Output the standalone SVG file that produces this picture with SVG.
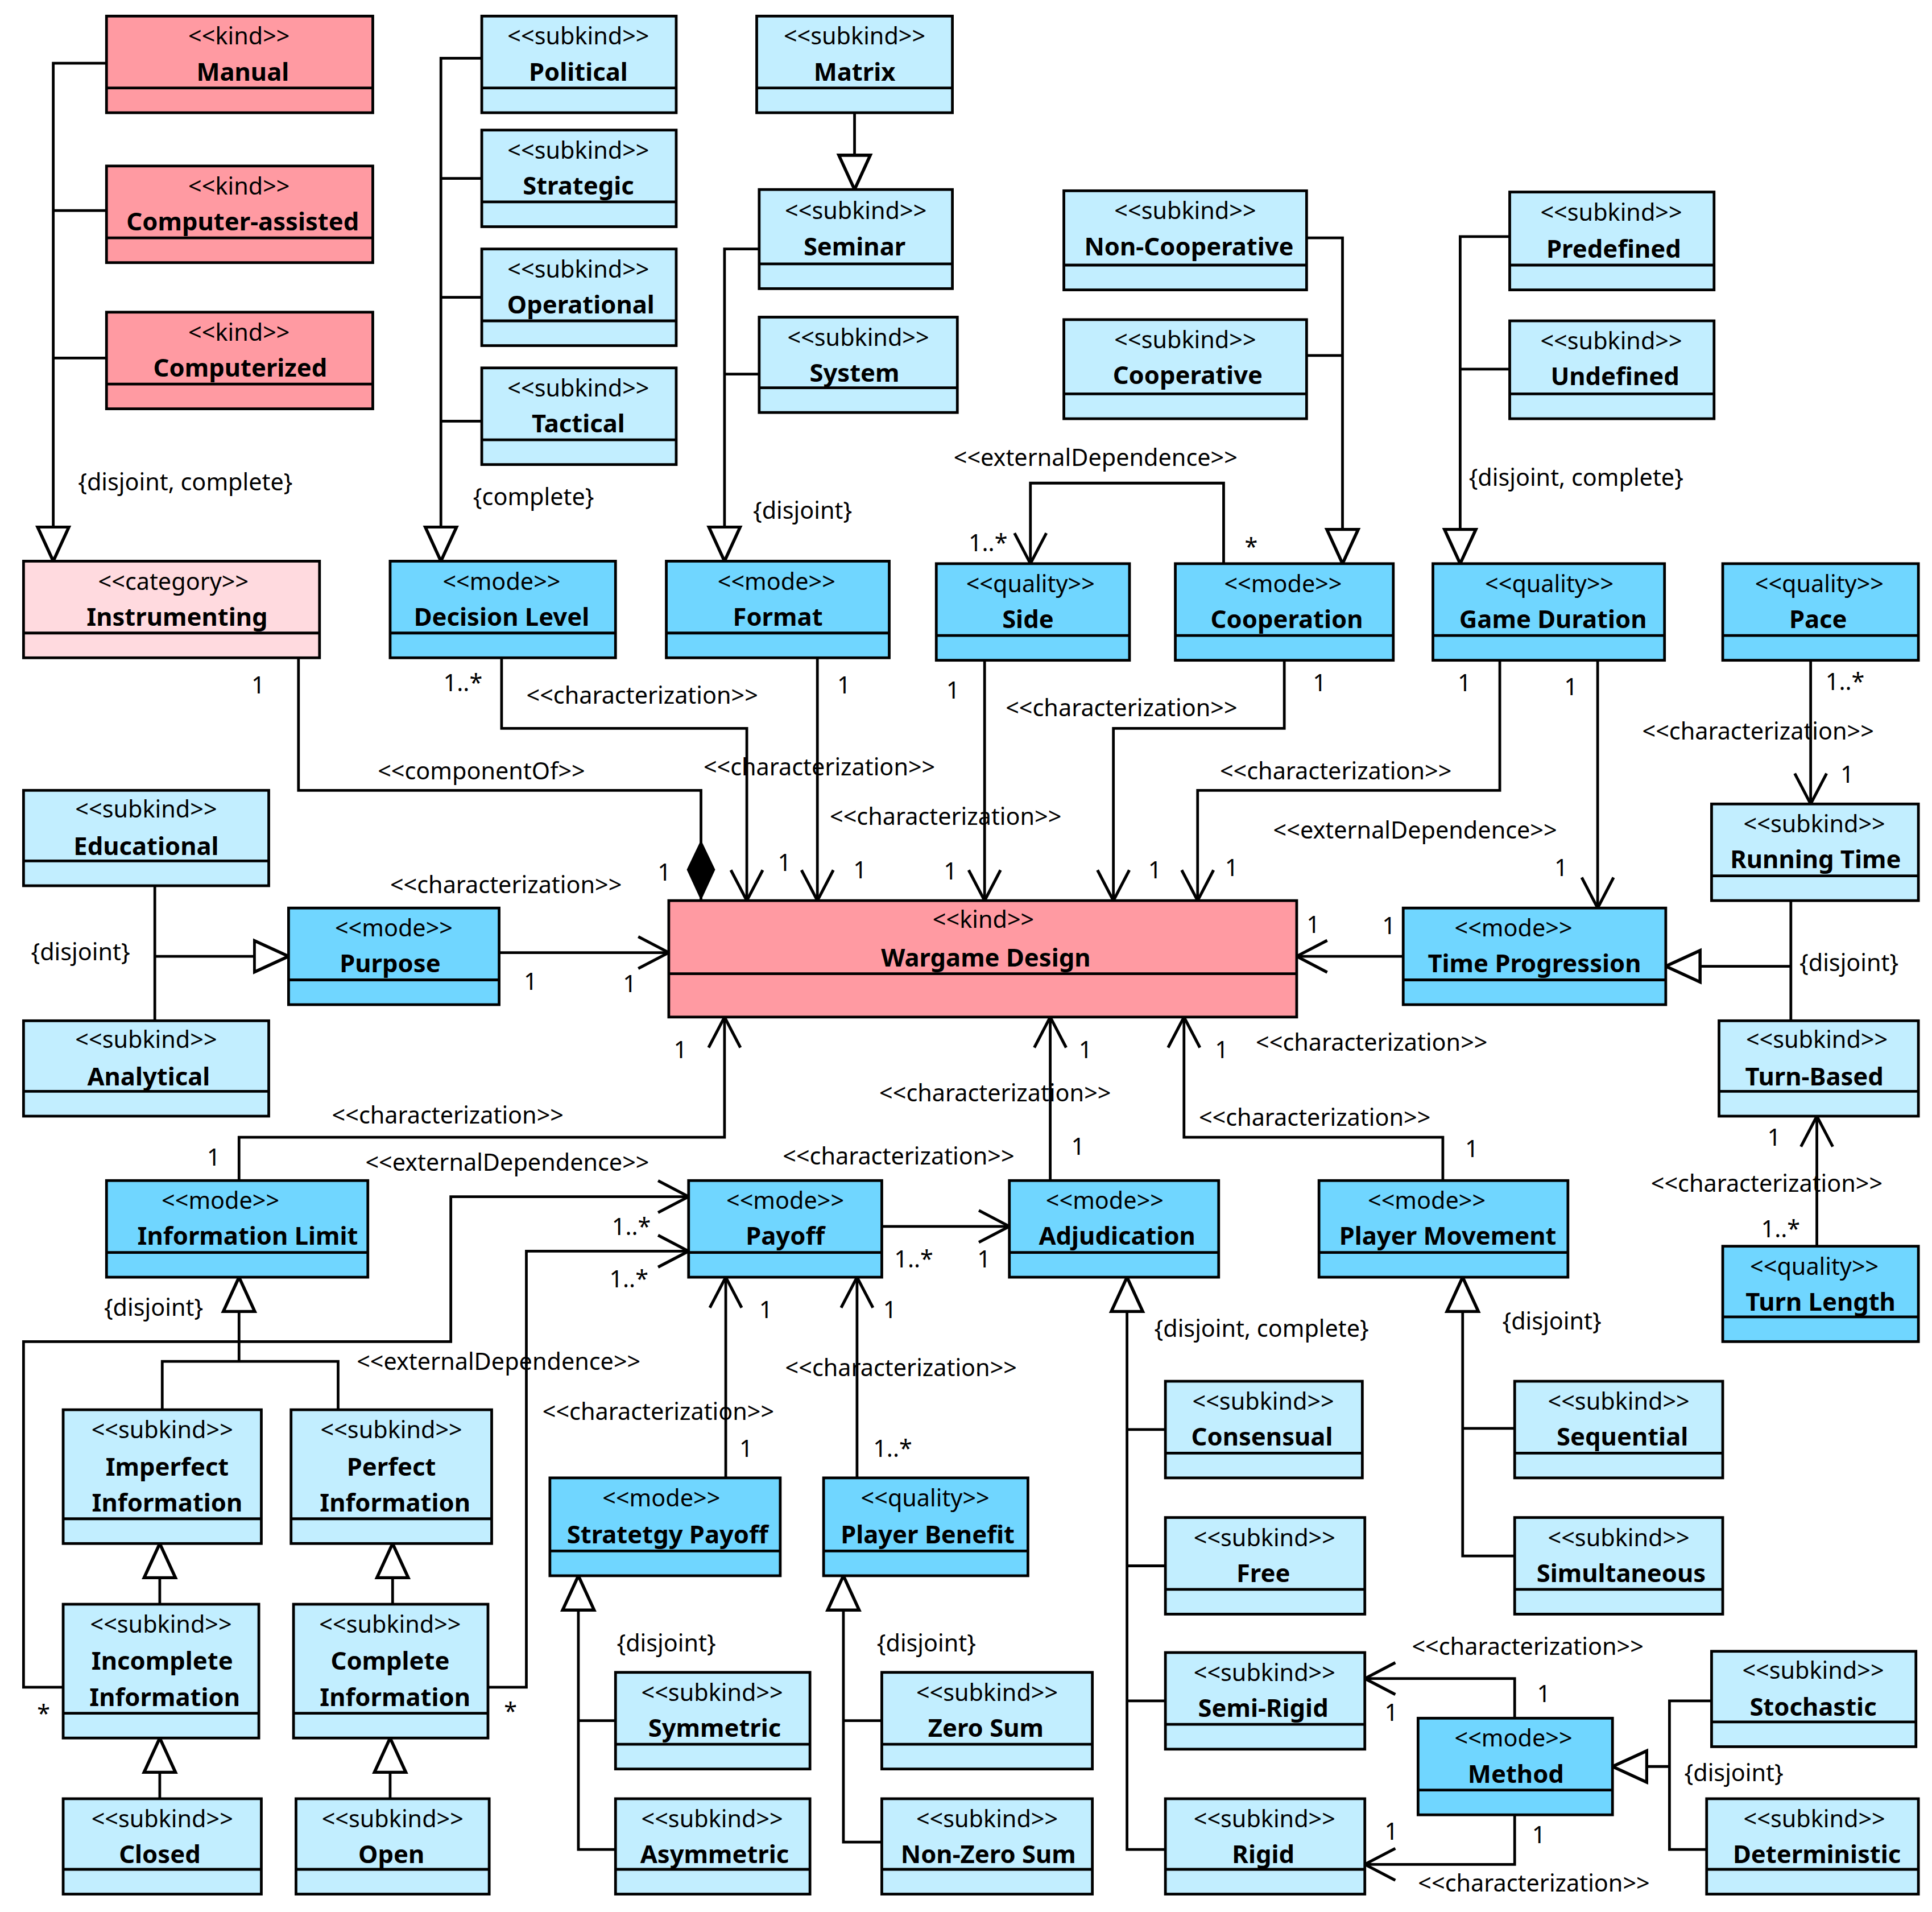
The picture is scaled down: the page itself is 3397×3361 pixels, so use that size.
<svg xmlns="http://www.w3.org/2000/svg" width="3397" height="3361" viewBox="0 0 3397 3361">
<style>
.b rect{stroke:#000;stroke-width:2.2}
.b line{stroke:#000;stroke-width:2.2}
.k rect{fill:#FF9AA2}.c rect{fill:#FFDADF}.s rect{fill:#C2EEFF}.m rect{fill:#70D6FF}
.st{font-family:"Noto Sans","DejaVu Sans",sans-serif;font-size:19px;text-anchor:middle}
.nm{font-family:"Noto Sans","DejaVu Sans",sans-serif;font-size:20px;font-weight:bold;text-anchor:middle}
.lb{font-family:"Noto Sans","DejaVu Sans",sans-serif;font-size:19px}
#conn path{fill:none;stroke:#000;stroke-width:2.2}
</style>
<defs>
<marker id="tri" markerUnits="userSpaceOnUse" markerWidth="30" markerHeight="30" viewBox="-1 -13 26 26" refX="24" refY="0" orient="auto"><path d="M0,-11 L24,0 L0,11 Z" fill="#fff" stroke="#000" stroke-width="2.2"/></marker>
<marker id="arr" markerUnits="userSpaceOnUse" markerWidth="30" markerHeight="30" viewBox="-1 -14 26 28" refX="23" refY="0" orient="auto"><path d="M0,-12 L23,0 L0,12" fill="none" stroke="#000" stroke-width="2.2"/></marker>
<marker id="dia" markerUnits="userSpaceOnUse" markerWidth="50" markerHeight="30" viewBox="0 -13 48 26" refX="47" refY="0" orient="auto"><path d="M0,0 L23,-11 L47,0 L23,11 Z" fill="#000"/></marker>
</defs>
<rect width="3397" height="3361" fill="#fff"/>
<g transform="scale(2.1776)">
<g id="conn">
<path d="M86,51H43V453" marker-end="url(#tri)"/><path d="M86,170H43M86,289H43"/>
<path d="M389,47H356V453" marker-end="url(#tri)"/><path d="M389,144H356M389,240H356M389,340H356"/>
<path d="M690,91V153" marker-end="url(#tri)"/>
<path d="M613,201H585V453" marker-end="url(#tri)"/><path d="M613,302H585"/>
<path d="M1055,192H1084V455" marker-end="url(#tri)"/><path d="M1055,287H1084"/>
<path d="M1219,191H1179V455" marker-end="url(#tri)"/><path d="M1219,298H1179"/>
<path d="M988,455V390H832V455" marker-end="url(#arr)"/>
<path d="M241,531V638H566V727" marker-end="url(#dia)"/>
<path d="M405,531V588H603V727" marker-end="url(#arr)"/>
<path d="M660,531V727" marker-end="url(#arr)"/>
<path d="M795,533V727" marker-end="url(#arr)"/>
<path d="M1037,533V588H899V727" marker-end="url(#arr)"/>
<path d="M1211,533V638H967V727" marker-end="url(#arr)"/>
<path d="M1290,533V733" marker-end="url(#arr)"/>
<path d="M1462,533V649" marker-end="url(#arr)"/>
<path d="M1446,727V824M1446,780H1345" marker-end="url(#tri)"/>
<path d="M1467,1006V901" marker-end="url(#arr)"/>
<path d="M1133,772H1047" marker-end="url(#arr)"/>
<path d="M403,769H540" marker-end="url(#arr)"/>
<path d="M125,715V824M125,772H233" marker-end="url(#tri)"/>
<path d="M193,953V918H585V821" marker-end="url(#arr)"/>
<path d="M848,953V821" marker-end="url(#arr)"/>
<path d="M712,990H815" marker-end="url(#arr)"/>
<path d="M1165,953V918H956V821" marker-end="url(#arr)"/>
<path d="M51,1362H19V1083H364V966H556" marker-end="url(#arr)"/>
<path d="M394,1362H425V1010H556" marker-end="url(#arr)"/>
<path d="M131,1138V1099H273V1138M193,1099V1031" marker-end="url(#tri)"/>
<path d="M129,1295V1246" marker-end="url(#tri)"/>
<path d="M317,1295V1246" marker-end="url(#tri)"/>
<path d="M129,1452V1403" marker-end="url(#tri)"/>
<path d="M315,1452V1403" marker-end="url(#tri)"/>
<path d="M586,1193V1031" marker-end="url(#arr)"/>
<path d="M692,1193V1031" marker-end="url(#arr)"/>
<path d="M497,1389H467M497,1493H467V1272" marker-end="url(#tri)"/>
<path d="M712,1389H681M712,1487H681V1272" marker-end="url(#tri)"/>
<path d="M941,1154H910M941,1264H910M941,1373H910M941,1493H910V1031" marker-end="url(#tri)"/>
<path d="M1223,1153H1181M1223,1256H1181V1031" marker-end="url(#tri)"/>
<path d="M1223,1387V1355H1102" marker-end="url(#arr)"/>
<path d="M1223,1465V1505H1102" marker-end="url(#arr)"/>
<path d="M1382,1373H1348V1493H1378M1348,1426H1302" marker-end="url(#tri)"/>
</g>
<g class="lb">
<text x="63" y="396">{disjoint, complete}</text>
<text x="382" y="408">{complete}</text>
<text x="608" y="419">{disjoint}</text>
<text x="1186" y="392">{disjoint, complete}</text>
<text x="770" y="376">&lt;&lt;externalDependence&gt;&gt;</text>
<text x="782" y="445">1..*</text><text x="1005" y="448">*</text>
<text x="305" y="629">&lt;&lt;componentOf&gt;&gt;</text>
<text x="203" y="560">1</text><text x="531" y="711">1</text>
<text x="358" y="558">1..*</text><text x="425" y="568">&lt;&lt;characterization&gt;&gt;</text><text x="628" y="703">1</text>
<text x="676" y="560">1</text><text x="568" y="626">&lt;&lt;characterization&gt;&gt;</text><text x="689" y="709">1</text>
<text x="764" y="564">1</text><text x="670" y="666">&lt;&lt;characterization&gt;&gt;</text><text x="762" y="710">1</text>
<text x="1060" y="558">1</text><text x="812" y="578">&lt;&lt;characterization&gt;&gt;</text><text x="927" y="709">1</text>
<text x="1177" y="558">1</text><text x="985" y="629">&lt;&lt;characterization&gt;&gt;</text><text x="989" y="707">1</text>
<text x="1263" y="561">1</text><text x="1028" y="677">&lt;&lt;externalDependence&gt;&gt;</text><text x="1255" y="707">1</text>
<text x="1474" y="557">1..*</text><text x="1326" y="597">&lt;&lt;characterization&gt;&gt;</text><text x="1486" y="632">1</text>
<text x="1453" y="784">{disjoint}</text>
<text x="1427" y="925">1</text><text x="1333" y="962">&lt;&lt;characterization&gt;&gt;</text><text x="1422" y="999">1..*</text>
<text x="1116" y="754">1</text><text x="1055" y="753">1</text>
<text x="423" y="799">1</text><text x="503" y="801">1</text><text x="315" y="721">&lt;&lt;characterization&gt;&gt;</text>
<text x="25" y="775">{disjoint}</text>
<text x="167" y="941">1</text><text x="268" y="907">&lt;&lt;characterization&gt;&gt;</text><text x="544" y="854">1</text>
<text x="871" y="854">1</text><text x="710" y="889">&lt;&lt;characterization&gt;&gt;</text><text x="865" y="932">1</text>
<text x="632" y="940">&lt;&lt;characterization&gt;&gt;</text><text x="722" y="1023">1..*</text><text x="789" y="1023">1</text>
<text x="981" y="854">1</text><text x="1014" y="848">&lt;&lt;characterization&gt;&gt;</text><text x="968" y="909">&lt;&lt;characterization&gt;&gt;</text><text x="1183" y="934">1</text>
<text x="30" y="1390">*</text><text x="494" y="997">1..*</text><text x="295" y="945">&lt;&lt;externalDependence&gt;&gt;</text>
<text x="407" y="1388">*</text><text x="492" y="1039">1..*</text><text x="288" y="1106">&lt;&lt;externalDependence&gt;&gt;</text>
<text x="84" y="1062">{disjoint}</text>
<text x="613" y="1064">1</text><text x="438" y="1146">&lt;&lt;characterization&gt;&gt;</text><text x="597" y="1176">1</text>
<text x="713" y="1064">1</text><text x="634" y="1111">&lt;&lt;characterization&gt;&gt;</text><text x="705" y="1176">1..*</text>
<text x="498" y="1333">{disjoint}</text><text x="708" y="1333">{disjoint}</text>
<text x="932" y="1079">{disjoint, complete}</text><text x="1213" y="1073">{disjoint}</text>
<text x="1140" y="1336">&lt;&lt;characterization&gt;&gt;</text><text x="1241" y="1374">1</text><text x="1118" y="1389">1</text>
<text x="1237" y="1488">1</text><text x="1118" y="1485">1</text><text x="1145" y="1527">&lt;&lt;characterization&gt;&gt;</text>
<text x="1360" y="1438">{disjoint}</text>
</g>
<g id="n-manual" class="b k"><rect x="86" y="13" width="215" height="78"/><line x1="86" y1="71" x2="301" y2="71"/><text class="st" x="193" y="36">&lt;&lt;kind&gt;&gt;</text><text class="nm" x="196" y="65">Manual</text></g>
<g id="n-ca" class="b k"><rect x="86" y="134" width="215" height="78"/><line x1="86" y1="192" x2="301" y2="192"/><text class="st" x="193" y="157">&lt;&lt;kind&gt;&gt;</text><text class="nm" x="196" y="186">Computer-assisted</text></g>
<g id="n-comp" class="b k"><rect x="86" y="252" width="215" height="78"/><line x1="86" y1="310" x2="301" y2="310"/><text class="st" x="193" y="275">&lt;&lt;kind&gt;&gt;</text><text class="nm" x="194" y="304">Computerized</text></g>
<g id="n-wd" class="b k"><rect x="540" y="727" width="507" height="94"/><line x1="540" y1="786" x2="1047" y2="786"/><text class="st" x="794" y="749">&lt;&lt;kind&gt;&gt;</text><text class="nm" x="796" y="780">Wargame Design</text></g>
<g id="n-instr" class="b c"><rect x="19" y="453" width="239" height="78"/><line x1="19" y1="511" x2="258" y2="511"/><text class="st" x="140" y="476">&lt;&lt;category&gt;&gt;</text><text class="nm" x="143" y="505">Instrumenting</text></g>
<g id="n-political" class="b s"><rect x="389" y="13" width="157" height="78"/><line x1="389" y1="71" x2="546" y2="71"/><text class="st" x="467" y="36">&lt;&lt;subkind&gt;&gt;</text><text class="nm" x="467" y="65">Political</text></g>
<g id="n-strategic" class="b s"><rect x="389" y="105" width="157" height="78"/><line x1="389" y1="163" x2="546" y2="163"/><text class="st" x="467" y="128">&lt;&lt;subkind&gt;&gt;</text><text class="nm" x="467" y="157">Strategic</text></g>
<g id="n-operational" class="b s"><rect x="389" y="201" width="157" height="78"/><line x1="389" y1="259" x2="546" y2="259"/><text class="st" x="467" y="224">&lt;&lt;subkind&gt;&gt;</text><text class="nm" x="469" y="253">Operational</text></g>
<g id="n-tactical" class="b s"><rect x="389" y="297" width="157" height="78"/><line x1="389" y1="355" x2="546" y2="355"/><text class="st" x="467" y="320">&lt;&lt;subkind&gt;&gt;</text><text class="nm" x="467" y="349">Tactical</text></g>
<g id="n-matrix" class="b s"><rect x="611" y="13" width="158" height="78"/><line x1="611" y1="71" x2="769" y2="71"/><text class="st" x="690" y="36">&lt;&lt;subkind&gt;&gt;</text><text class="nm" x="690" y="65">Matrix</text></g>
<g id="n-seminar" class="b s"><rect x="613" y="153" width="156" height="80"/><line x1="613" y1="213" x2="769" y2="213"/><text class="st" x="691" y="177">&lt;&lt;subkind&gt;&gt;</text><text class="nm" x="690" y="206">Seminar</text></g>
<g id="n-system" class="b s"><rect x="613" y="256" width="160" height="77"/><line x1="613" y1="313" x2="773" y2="313"/><text class="st" x="693" y="279">&lt;&lt;subkind&gt;&gt;</text><text class="nm" x="690" y="308">System</text></g>
<g id="n-noncoop" class="b s"><rect x="859" y="154" width="196" height="80"/><line x1="859" y1="214" x2="1055" y2="214"/><text class="st" x="957" y="177">&lt;&lt;subkind&gt;&gt;</text><text class="nm" x="960" y="206">Non-Cooperative</text></g>
<g id="n-coop" class="b s"><rect x="859" y="258" width="196" height="80"/><line x1="859" y1="318" x2="1055" y2="318"/><text class="st" x="957" y="281">&lt;&lt;subkind&gt;&gt;</text><text class="nm" x="959" y="310">Cooperative</text></g>
<g id="n-predef" class="b s"><rect x="1219" y="155" width="165" height="79"/><line x1="1219" y1="214" x2="1384" y2="214"/><text class="st" x="1301" y="178">&lt;&lt;subkind&gt;&gt;</text><text class="nm" x="1303" y="208">Predefined</text></g>
<g id="n-undef" class="b s"><rect x="1219" y="259" width="165" height="79"/><line x1="1219" y1="318" x2="1384" y2="318"/><text class="st" x="1301" y="282">&lt;&lt;subkind&gt;&gt;</text><text class="nm" x="1304" y="311">Undefined</text></g>
<g id="n-edu" class="b s"><rect x="19" y="638" width="198" height="77"/><line x1="19" y1="695" x2="217" y2="695"/><text class="st" x="118" y="660">&lt;&lt;subkind&gt;&gt;</text><text class="nm" x="118" y="690">Educational</text></g>
<g id="n-ana" class="b s"><rect x="19" y="824" width="198" height="77"/><line x1="19" y1="881" x2="217" y2="881"/><text class="st" x="118" y="846">&lt;&lt;subkind&gt;&gt;</text><text class="nm" x="120" y="876">Analytical</text></g>
<g id="n-running" class="b s"><rect x="1382" y="649" width="167" height="78"/><line x1="1382" y1="707" x2="1549" y2="707"/><text class="st" x="1465" y="672">&lt;&lt;subkind&gt;&gt;</text><text class="nm" x="1466" y="701">Running Time</text></g>
<g id="n-turnbased" class="b s"><rect x="1388" y="824" width="161" height="77"/><line x1="1388" y1="881" x2="1549" y2="881"/><text class="st" x="1467" y="846">&lt;&lt;subkind&gt;&gt;</text><text class="nm" x="1465" y="876">Turn-Based</text></g>
<g id="n-imperfect" class="b s"><rect x="51" y="1138" width="160" height="108"/><line x1="51" y1="1226" x2="211" y2="1226"/><text class="st" x="131" y="1161">&lt;&lt;subkind&gt;&gt;</text><text class="nm" x="135" y="1191">Imperfect</text><text class="nm" x="135" y="1220">Information</text></g>
<g id="n-perfect" class="b s"><rect x="235" y="1138" width="162" height="108"/><line x1="235" y1="1226" x2="397" y2="1226"/><text class="st" x="316" y="1161">&lt;&lt;subkind&gt;&gt;</text><text class="nm" x="316" y="1191">Perfect</text><text class="nm" x="319" y="1220">Information</text></g>
<g id="n-incomplete" class="b s"><rect x="51" y="1295" width="158" height="108"/><line x1="51" y1="1383" x2="209" y2="1383"/><text class="st" x="130" y="1318">&lt;&lt;subkind&gt;&gt;</text><text class="nm" x="131" y="1348">Incomplete</text><text class="nm" x="133" y="1377">Information</text></g>
<g id="n-complete" class="b s"><rect x="237" y="1295" width="157" height="108"/><line x1="237" y1="1383" x2="394" y2="1383"/><text class="st" x="315" y="1318">&lt;&lt;subkind&gt;&gt;</text><text class="nm" x="315" y="1348">Complete</text><text class="nm" x="319" y="1377">Information</text></g>
<g id="n-closed" class="b s"><rect x="51" y="1452" width="160" height="77"/><line x1="51" y1="1509" x2="211" y2="1509"/><text class="st" x="131" y="1475">&lt;&lt;subkind&gt;&gt;</text><text class="nm" x="129" y="1504">Closed</text></g>
<g id="n-open" class="b s"><rect x="239" y="1452" width="156" height="77"/><line x1="239" y1="1509" x2="395" y2="1509"/><text class="st" x="317" y="1475">&lt;&lt;subkind&gt;&gt;</text><text class="nm" x="316" y="1504">Open</text></g>
<g id="n-consensual" class="b s"><rect x="941" y="1115" width="159" height="78"/><line x1="941" y1="1173" x2="1100" y2="1173"/><text class="st" x="1020" y="1138">&lt;&lt;subkind&gt;&gt;</text><text class="nm" x="1019" y="1167">Consensual</text></g>
<g id="n-free" class="b s"><rect x="941" y="1225" width="161" height="78"/><line x1="941" y1="1283" x2="1102" y2="1283"/><text class="st" x="1021" y="1248">&lt;&lt;subkind&gt;&gt;</text><text class="nm" x="1020" y="1277">Free</text></g>
<g id="n-semirigid" class="b s"><rect x="941" y="1334" width="161" height="78"/><line x1="941" y1="1392" x2="1102" y2="1392"/><text class="st" x="1021" y="1357">&lt;&lt;subkind&gt;&gt;</text><text class="nm" x="1020" y="1386">Semi-Rigid</text></g>
<g id="n-rigid" class="b s"><rect x="941" y="1452" width="161" height="77"/><line x1="941" y1="1509" x2="1102" y2="1509"/><text class="st" x="1021" y="1475">&lt;&lt;subkind&gt;&gt;</text><text class="nm" x="1020" y="1504">Rigid</text></g>
<g id="n-sequential" class="b s"><rect x="1223" y="1115" width="168" height="78"/><line x1="1223" y1="1173" x2="1391" y2="1173"/><text class="st" x="1307" y="1138">&lt;&lt;subkind&gt;&gt;</text><text class="nm" x="1310" y="1167">Sequential</text></g>
<g id="n-simultaneous" class="b s"><rect x="1223" y="1225" width="168" height="78"/><line x1="1223" y1="1283" x2="1391" y2="1283"/><text class="st" x="1307" y="1248">&lt;&lt;subkind&gt;&gt;</text><text class="nm" x="1309" y="1277">Simultaneous</text></g>
<g id="n-symmetric" class="b s"><rect x="497" y="1350" width="157" height="78"/><line x1="497" y1="1408" x2="654" y2="1408"/><text class="st" x="575" y="1373">&lt;&lt;subkind&gt;&gt;</text><text class="nm" x="577" y="1402">Symmetric</text></g>
<g id="n-asymmetric" class="b s"><rect x="497" y="1452" width="157" height="77"/><line x1="497" y1="1509" x2="654" y2="1509"/><text class="st" x="575" y="1475">&lt;&lt;subkind&gt;&gt;</text><text class="nm" x="577" y="1504">Asymmetric</text></g>
<g id="n-zerosum" class="b s"><rect x="712" y="1350" width="170" height="78"/><line x1="712" y1="1408" x2="882" y2="1408"/><text class="st" x="797" y="1373">&lt;&lt;subkind&gt;&gt;</text><text class="nm" x="796" y="1402">Zero Sum</text></g>
<g id="n-nonzerosum" class="b s"><rect x="712" y="1452" width="170" height="77"/><line x1="712" y1="1509" x2="882" y2="1509"/><text class="st" x="797" y="1475">&lt;&lt;subkind&gt;&gt;</text><text class="nm" x="798" y="1504">Non-Zero Sum</text></g>
<g id="n-stochastic" class="b s"><rect x="1382" y="1333" width="165" height="77"/><line x1="1382" y1="1390" x2="1547" y2="1390"/><text class="st" x="1464" y="1355">&lt;&lt;subkind&gt;&gt;</text><text class="nm" x="1464" y="1385">Stochastic</text></g>
<g id="n-deterministic" class="b s"><rect x="1378" y="1452" width="171" height="77"/><line x1="1378" y1="1509" x2="1549" y2="1509"/><text class="st" x="1465" y="1475">&lt;&lt;subkind&gt;&gt;</text><text class="nm" x="1467" y="1504">Deterministic</text></g>
<g id="n-declevel" class="b m"><rect x="315" y="453" width="182" height="78"/><line x1="315" y1="511" x2="497" y2="511"/><text class="st" x="405" y="476">&lt;&lt;mode&gt;&gt;</text><text class="nm" x="405" y="505">Decision Level</text></g>
<g id="n-format" class="b m"><rect x="538" y="453" width="180" height="78"/><line x1="538" y1="511" x2="718" y2="511"/><text class="st" x="627" y="476">&lt;&lt;mode&gt;&gt;</text><text class="nm" x="628" y="505">Format</text></g>
<g id="n-side" class="b m"><rect x="756" y="455" width="156" height="78"/><line x1="756" y1="513" x2="912" y2="513"/><text class="st" x="832" y="478">&lt;&lt;quality&gt;&gt;</text><text class="nm" x="830" y="507">Side</text></g>
<g id="n-cooperation" class="b m"><rect x="949" y="455" width="176" height="78"/><line x1="949" y1="513" x2="1125" y2="513"/><text class="st" x="1036" y="478">&lt;&lt;mode&gt;&gt;</text><text class="nm" x="1039" y="507">Cooperation</text></g>
<g id="n-duration" class="b m"><rect x="1157" y="455" width="187" height="78"/><line x1="1157" y1="513" x2="1344" y2="513"/><text class="st" x="1251" y="478">&lt;&lt;quality&gt;&gt;</text><text class="nm" x="1254" y="507">Game Duration</text></g>
<g id="n-pace" class="b m"><rect x="1391" y="455" width="158" height="78"/><line x1="1391" y1="513" x2="1549" y2="513"/><text class="st" x="1469" y="478">&lt;&lt;quality&gt;&gt;</text><text class="nm" x="1468" y="507">Pace</text></g>
<g id="n-purpose" class="b m"><rect x="233" y="733" width="170" height="78"/><line x1="233" y1="791" x2="403" y2="791"/><text class="st" x="318" y="756">&lt;&lt;mode&gt;&gt;</text><text class="nm" x="315" y="785">Purpose</text></g>
<g id="n-timeprog" class="b m"><rect x="1133" y="733" width="212" height="78"/><line x1="1133" y1="791" x2="1345" y2="791"/><text class="st" x="1222" y="756">&lt;&lt;mode&gt;&gt;</text><text class="nm" x="1239" y="785">Time Progression</text></g>
<g id="n-infolimit" class="b m"><rect x="86" y="953" width="211" height="78"/><line x1="86" y1="1011" x2="297" y2="1011"/><text class="st" x="178" y="976">&lt;&lt;mode&gt;&gt;</text><text class="nm" x="200" y="1005">Information Limit</text></g>
<g id="n-payoff" class="b m"><rect x="556" y="953" width="156" height="78"/><line x1="556" y1="1011" x2="712" y2="1011"/><text class="st" x="634" y="976">&lt;&lt;mode&gt;&gt;</text><text class="nm" x="634" y="1005">Payoff</text></g>
<g id="n-adjud" class="b m"><rect x="815" y="953" width="169" height="78"/><line x1="815" y1="1011" x2="984" y2="1011"/><text class="st" x="892" y="976">&lt;&lt;mode&gt;&gt;</text><text class="nm" x="902" y="1005">Adjudication</text></g>
<g id="n-playermov" class="b m"><rect x="1065" y="953" width="201" height="78"/><line x1="1065" y1="1011" x2="1266" y2="1011"/><text class="st" x="1152" y="976">&lt;&lt;mode&gt;&gt;</text><text class="nm" x="1169" y="1005">Player Movement</text></g>
<g id="n-turnlength" class="b m"><rect x="1391" y="1006" width="158" height="77"/><line x1="1391" y1="1063" x2="1549" y2="1063"/><text class="st" x="1465" y="1029">&lt;&lt;quality&gt;&gt;</text><text class="nm" x="1470" y="1058">Turn Length</text></g>
<g id="n-stratpayoff" class="b m"><rect x="444" y="1193" width="186" height="79"/><line x1="444" y1="1252" x2="630" y2="1252"/><text class="st" x="534" y="1216">&lt;&lt;mode&gt;&gt;</text><text class="nm" x="539" y="1246">Stratetgy Payoff</text></g>
<g id="n-benefit" class="b m"><rect x="665" y="1193" width="165" height="79"/><line x1="665" y1="1252" x2="830" y2="1252"/><text class="st" x="747" y="1216">&lt;&lt;quality&gt;&gt;</text><text class="nm" x="749" y="1246">Player Benefit</text></g>
<g id="n-method" class="b m"><rect x="1145" y="1387" width="157" height="78"/><line x1="1145" y1="1445" x2="1302" y2="1445"/><text class="st" x="1222" y="1410">&lt;&lt;mode&gt;&gt;</text><text class="nm" x="1224" y="1439">Method</text></g>
</g>
</svg>
